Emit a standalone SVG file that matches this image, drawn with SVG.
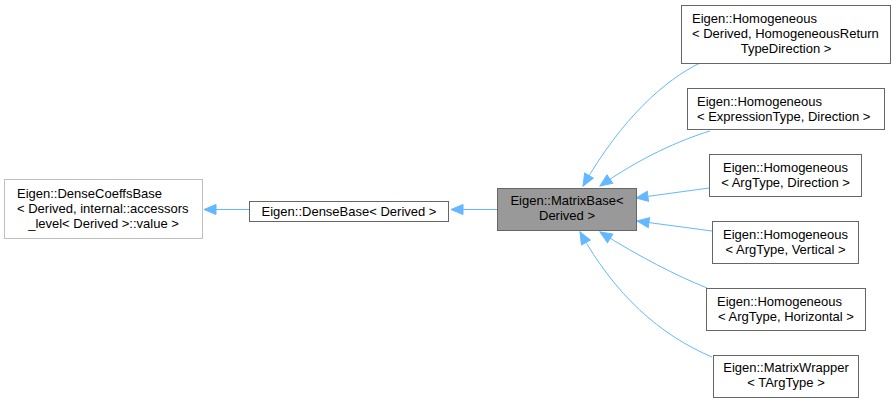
<svg xmlns="http://www.w3.org/2000/svg" width="896" height="403" viewBox="0 0 896 403">
<style>
text{font-family:"Liberation Sans",Arial,sans-serif;font-size:13px;fill:#000}
.n rect{fill:#fff;stroke:#666;stroke-width:1}
.m{text-anchor:middle}
.e path{fill:none;stroke:#63b8ff;stroke-width:1;marker-end:url(#ah)}
</style>
<defs>
<marker id="ah" markerUnits="userSpaceOnUse" markerWidth="14" markerHeight="12" viewBox="-1 -1 14 12" refX="12" refY="5" orient="auto">
<path d="M0,0 L12,5 L0,10 z" fill="#63b8ff" stroke="#63b8ff" stroke-width="1"/>
</marker>
</defs>
<rect width="896" height="403" fill="#fff"/>
<g id="edges" class="e">
<path d="M249,209.5 L204,209.5"/>
<path d="M497,209.5 L451,209.5"/>
<path d="M700,63 C665,80 622,118 583,186"/>
<path d="M710,131 C680,140 640,158 600,186"/>
<path d="M709,188 L636,198"/>
<path d="M712,231 L637,221"/>
<path d="M707,288 C675,275 640,257 600,232"/>
<path d="M712,357 C660,335 615,295 580,232"/>
</g>
<g id="node_densecoeffsbase" class="n">
<rect x="4.5" y="179.5" width="198" height="59" style="stroke:#bfbfbf"/>
<text x="17" y="198">Eigen::DenseCoeffsBase</text>
<text x="17" y="213">&lt; Derived, internal::accessors</text>
<text x="103.5" y="228" class="m">_level&lt; Derived &gt;::value &gt;</text>
</g>
<g id="node_densebase" class="n">
<rect x="249.5" y="201.5" width="199" height="20"/>
<text x="349" y="216" class="m">Eigen::DenseBase&lt; Derived &gt;</text>
</g>
<g id="node_matrixbase" class="n">
<rect x="497.5" y="188.5" width="139" height="42" style="fill:#999"/>
<text x="567" y="205" class="m">Eigen::MatrixBase&lt;</text>
<text x="567" y="220" class="m">Derived &gt;</text>
</g>
<g id="node_homog_derived" class="n">
<rect x="681.5" y="5.5" width="209" height="58"/>
<text x="692" y="23">Eigen::Homogeneous</text>
<text x="692" y="38">&lt; Derived, HomogeneousReturn</text>
<text x="786" y="53" class="m">TypeDirection &gt;</text>
</g>
<g id="node_homog_expr" class="n">
<rect x="687.5" y="88.5" width="197" height="41"/>
<text x="697" y="106">Eigen::Homogeneous</text>
<text x="697" y="121">&lt; ExpressionType, Direction &gt;</text>
</g>
<g id="node_homog_argdir" class="n">
<rect x="709.5" y="154.5" width="152" height="42"/>
<text x="785.5" y="172" class="m">Eigen::Homogeneous</text>
<text x="785.5" y="187" class="m">&lt; ArgType, Direction &gt;</text>
</g>
<g id="node_homog_argvert" class="n">
<rect x="712.5" y="221.5" width="146" height="42"/>
<text x="785.5" y="239" class="m">Eigen::Homogeneous</text>
<text x="785.5" y="254" class="m">&lt; ArgType, Vertical &gt;</text>
</g>
<g id="node_homog_arghoriz" class="n">
<rect x="706.5" y="288.5" width="159" height="42"/>
<text x="717" y="306">Eigen::Homogeneous</text>
<text x="786" y="321" class="m">&lt; ArgType, Horizontal &gt;</text>
</g>
<g id="node_matrixwrapper" class="n">
<rect x="713.5" y="355.5" width="145" height="42"/>
<text x="786" y="372" class="m">Eigen::MatrixWrapper</text>
<text x="786" y="387" class="m">&lt; TArgType &gt;</text>
</g>
</svg>
